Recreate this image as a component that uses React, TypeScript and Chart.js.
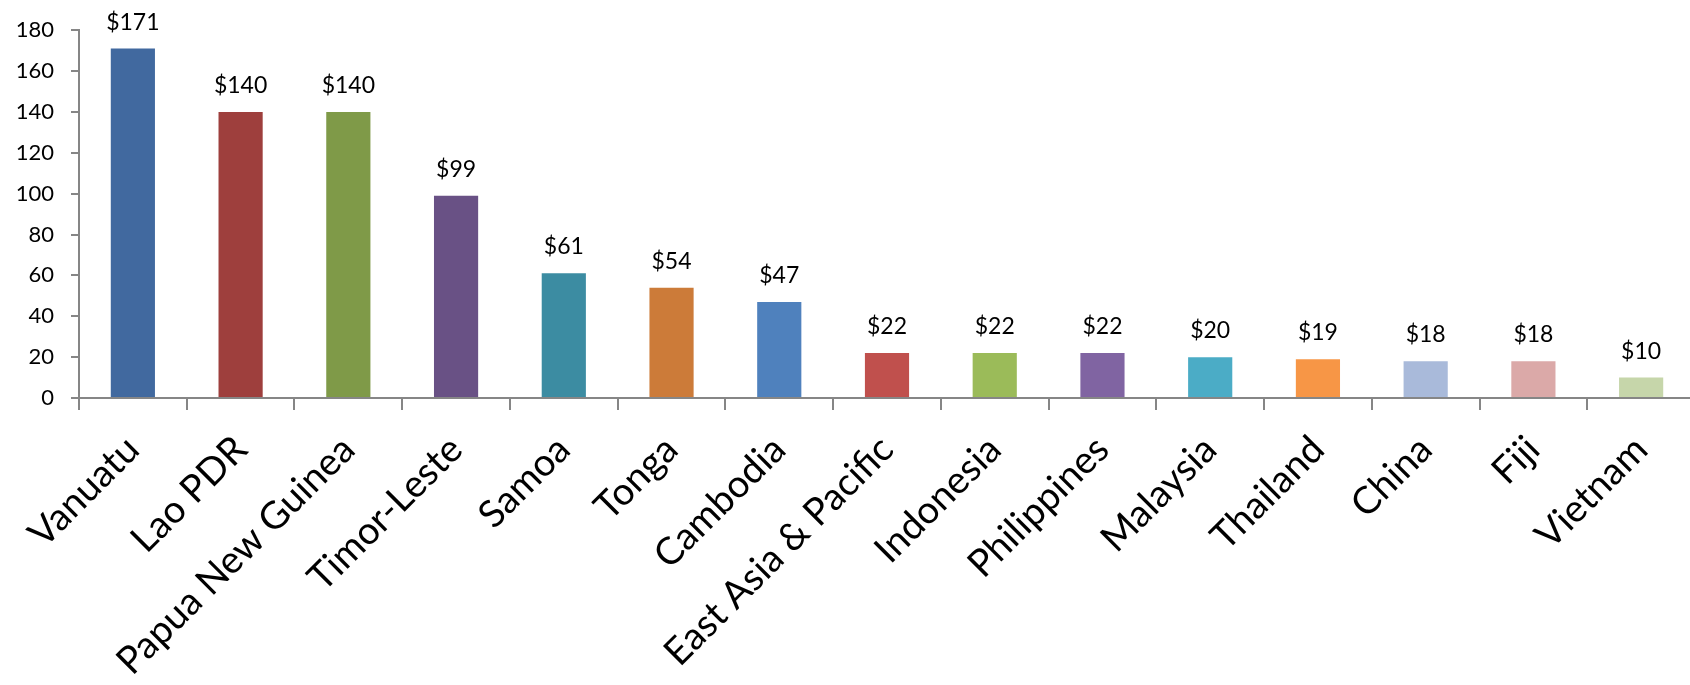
import React, { useEffect, useRef } from "react";
import { Chart, registerables } from "chart.js";

Chart.register(...registerables);

const categories = [
  "Vanuatu",
  "Lao PDR",
  "Papua New Guinea",
  "Timor-Leste",
  "Samoa",
  "Tonga",
  "Cambodia",
  "East Asia & Pacific",
  "Indonesia",
  "Philippines",
  "Malaysia",
  "Thailand",
  "China",
  "Fiji",
  "Vietnam",
];

const values = [171, 140, 140, 99, 61, 54, 47, 22, 22, 22, 20, 19, 18, 18, 10];

const barColors = [
  "#41699F",
  "#9E3F3D",
  "#7F9A48",
  "#695185",
  "#3C8CA2",
  "#CC7B39",
  "#4F81BD",
  "#C0504D",
  "#9BBB59",
  "#8064A2",
  "#4BACC6",
  "#F79646",
  "#A9BADA",
  "#DBA9A8",
  "#C6D6AA",
];

const yTicks = [0, 20, 40, 60, 80, 100, 120, 140, 160, 180];

const FONT = "Lato, 'Open Sans', 'DejaVu Sans', sans-serif";

const dataLabelPlugin = {
  id: "dataLabels",
  afterDatasetsDraw(chart: any) {
    const ctx = chart.ctx;
    const meta = chart.getDatasetMeta(0);
    ctx.save();
    ctx.font = `23px ${FONT}`;
    ctx.fillStyle = "#000000";
    ctx.textAlign = "center";
    ctx.textBaseline = "alphabetic";
    meta.data.forEach((bar: any, i: number) => {
      ctx.fillText("$" + values[i], bar.x, bar.y - 19);
    });
    ctx.restore();
  },
};

export default function App() {
  const canvasRef = useRef<HTMLCanvasElement | null>(null);

  useEffect(() => {
    if (!canvasRef.current) return;
    const chart = new Chart(canvasRef.current, {
      type: "bar",
      data: {
        labels: categories,
        datasets: [
          {
            data: values,
            backgroundColor: barColors,
            borderWidth: 0,
            barPercentage: 0.41,
            categoryPercentage: 1,
          },
        ],
      },
      options: {
        animation: false,
        responsive: false,
        maintainAspectRatio: false,
        layout: { padding: { top: 30, right: 5, left: 0, bottom: 0 } },
        plugins: {
          legend: { display: false },
          tooltip: { enabled: false },
        },
        scales: {
          x: {
            offset: true,
            grid: {
              display: true,
              offset: true,
              drawOnChartArea: false,
              drawTicks: true,
              tickLength: 12,
              color: "#868686",
              lineWidth: 2,
            },
            border: { display: true, color: "#868686", width: 2 },
            ticks: {
              color: "#000000",
              font: { family: FONT, size: 38 },
              maxRotation: 45,
              minRotation: 45,
              autoSkip: false,
              padding: 17,
            },
            afterFit(scale: any) {
              scale.height = 287;
            },
          },
          y: {
            min: 0,
            max: 180,
            afterBuildTicks(scale: any) {
              scale.ticks = yTicks.map((v) => ({ value: v }));
            },
            grid: {
              display: true,
              drawOnChartArea: false,
              drawTicks: true,
              tickLength: 8,
              color: "#868686",
              lineWidth: 2,
            },
            border: { display: true, color: "#868686", width: 2 },
            ticks: {
              color: "#000000",
              font: { family: FONT, size: 22 },
              padding: 17,
            },
            afterFit(scale: any) {
              scale.width = 79;
            },
          },
        },
      },
      plugins: [dataLabelPlugin],
    });
    return () => chart.destroy();
  }, []);

  return (
    <div
      style={{
        position: "fixed",
        left: 0,
        top: 0,
        width: 1690,
        height: 685,
        overflow: "hidden",
        background: "#ffffff",
      }}
    >
      <canvas
        ref={canvasRef}
        width={1700}
        height={685}
        style={{ display: "block", width: 1700, height: 685 }}
      />
    </div>
  );
}
